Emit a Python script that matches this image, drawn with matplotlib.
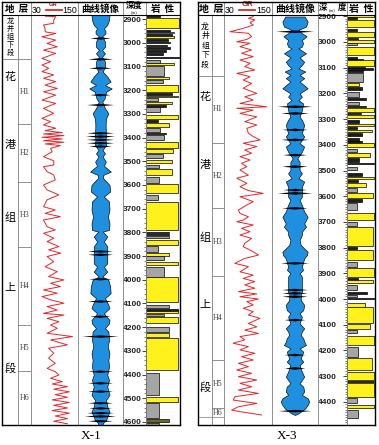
"""Well-log comparison of X-1 and X-3: stratigraphy, GR, mirrored curve, depth, lithology."""

import matplotlib

matplotlib.use("Agg")
import matplotlib.pyplot as plt
from matplotlib.ticker import MultipleLocator
import numpy as np

plt.rcParams["font.family"] = ["Noto Sans CJK SC", "DejaVu Sans"]

# ---------------------------------------------------------------- X-1 data
X1_DEPTH_RANGE = (2883, 4613)
X1_FM_TOP = 3069
X1_FM_CHAR_DEPTH = [3145, 3432, 3740, 4035, 4373]
X1_HZ_TOPS = [3069, 3343, 3588, 3862, 4191, 4385]
X1_HZ_BASE = 4613

X1_GR_DEPTH = [2888, 2890, 2904, 2918, 2925, 2940, 2954, 2961, 2975, 2989, 3003, 3017,
               3031, 3045, 3066, 3080, 3094, 3108, 3122, 3136, 3150, 3164, 3179, 3193,
               3207, 3221, 3242, 3256, 3277, 3298, 3319, 3333, 3347, 3361, 3371, 3379,
               3385, 3392, 3399, 3406, 3413, 3420, 3427, 3434, 3446, 3460, 3481, 3498,
               3516, 3523, 3544, 3558, 3579, 3600, 3621, 3642, 3663, 3692, 3706, 3720,
               3734, 3748, 3776, 3790, 3804, 3825, 3839, 3860, 3874, 3888, 3902, 3924,
               3945, 3966, 3987, 4001, 4015, 4029, 4043, 4057, 4071, 4085, 4099, 4113,
               4128, 4142, 4149, 4163, 4177, 4191, 4205, 4226, 4240, 4254, 4275, 4289,
               4310, 4331, 4353, 4374, 4388, 4402, 4416, 4430, 4440, 4451, 4462, 4473,
               4485, 4496, 4507, 4518, 4530, 4541, 4552, 4563, 4575, 4586, 4597, 4608]
X1_GR_API = [67, 93, 88, 88, 62, 66, 66, 93, 58, 93, 71, 97,
             62, 93, 58, 80, 58, 75, 58, 88, 62, 93, 66, 97,
             62, 93, 58, 93, 62, 88, 58, 80, 62, 93, 66, 110,
             62, 114, 58, 110, 62, 114, 66, 105, 80, 84, 62, 88,
             88, 62, 71, 88, 92, 62, 71, 101, 71, 62, 92, 66,
             105, 62, 71, 92, 62, 88, 71, 101, 75, 106, 71, 88,
             66, 97, 75, 114, 80, 105, 62, 97, 58, 80, 114, 71,
             97, 62, 114, 71, 101, 80, 97, 71, 136, 80, 123, 75,
             88, 75, 92, 71, 92, 101, 80, 110, 84, 123, 88, 128,
             92, 123, 84, 128, 88, 123, 84, 128, 92, 123, 88, 123]

X1_MIR_DEPTH = [2883, 2904, 2925, 2940, 2950, 2961, 2972, 2996, 3017, 3031, 3045, 3059,
                3080, 3101, 3122, 3143, 3164, 3179, 3193, 3207, 3235, 3249, 3277, 3298,
                3319, 3340, 3361, 3389, 3410, 3431, 3453, 3467, 3481, 3502, 3519, 3544,
                3558, 3572, 3600, 3628, 3649, 3670, 3706, 3734, 3762, 3790, 3797, 3818,
                3839, 3860, 3909, 3931, 3945, 3966, 3987, 4001, 4029, 4057, 4078, 4106,
                4120, 4142, 4170, 4184, 4205, 4219, 4254, 4282, 4310, 4338, 4367, 4402,
                4423, 4451, 4486, 4507, 4535, 4556, 4591, 4606, 4613]
X1_MIR_HALF = [0.40, 0.38, 0.30, 0.15, 0.22, 0.22, 0.08, 0.20, 0.20, 0.07, 0.20, 0.07,
               0.20, 0.20, 0.10, 0.30, 0.45, 0.20, 0.50, 0.25, 0.18, 0.08, 0.20, 0.35,
               0.25, 0.23, 0.23, 0.25, 0.22, 0.25, 0.09, 0.20, 0.09, 0.24, 0.15, 0.46,
               0.12, 0.12, 0.40, 0.43, 0.15, 0.38, 0.40, 0.33, 0.40, 0.38, 0.10, 0.30,
               0.15, 0.30, 0.30, 0.30, 0.15, 0.30, 0.08, 0.35, 0.43, 0.45, 0.20, 0.35,
               0.40, 0.15, 0.40, 0.38, 0.20, 0.35, 0.38, 0.32, 0.40, 0.35, 0.38, 0.30,
               0.38, 0.30, 0.40, 0.25, 0.30, 0.40, 0.25, 0.10, 0.10]
X1_SPIKE_DEPTH = [2982, 3070, 3108, 3221, 3263, 3382, 3396, 3410, 3424, 3438, 3881, 3895,
                  3998, 4092, 4156, 4240, 4388, 4437, 4472, 4521, 4543, 4563, 4577, 4597]
X1_SPIKE_HALF = [0.45, 0.55, 0.50, 0.45, 0.60, 0.60, 0.65, 0.60, 0.60, 0.50, 0.55, 0.55,
                 0.50, 0.55, 0.45, 0.80, 0.55, 0.55, 0.55, 0.55, 0.50, 0.60, 0.70, 0.55]

X1_LITH_TOP = [2883, 2897, 2946, 2955, 2963, 2972, 2983, 2996, 3008, 3019, 3031, 3042,
               3059, 3073, 3087, 3098, 3143, 3157, 3179, 3211, 3224, 3235, 3250, 3263,
               3273, 3305, 3326, 3337, 3361, 3379, 3389, 3417, 3450, 3469, 3495, 3516,
               3534, 3568, 3596, 3642, 3670, 3797, 3806, 3815, 3832, 3857, 3888, 3902,
               3924, 3945, 3990, 4106, 4125, 4130, 4144, 4156, 4198, 4223, 4247, 4392,
               4493, 4521, 4589, 4603]
X1_LITH_BASE = [2890, 2939, 2953, 2961, 2970, 2980, 2991, 3003, 3015, 3026, 3039, 3050,
                3064, 3084, 3094, 3141, 3152, 3169, 3207, 3221, 3231, 3246, 3259, 3270,
                3294, 3323, 3333, 3354, 3375, 3385, 3410, 3446, 3467, 3488, 3509, 3530,
                3558, 3590, 3635, 3663, 3790, 3804, 3811, 3825, 3853, 3881, 3900, 3917,
                3938, 3987, 4092, 4120, 4130, 4142, 4151, 4184, 4219, 4240, 4381, 4486,
                4514, 4584, 4599, 4613]
X1_LITH_WIDTH = [0.42, 1.00, 0.74, 0.84, 0.79, 0.84, 0.68, 0.74, 0.63, 0.72, 0.61, 0.53,
                 1.00, 0.42, 0.86, 0.55, 0.70, 0.52, 0.97, 0.80, 0.97, 0.37, 0.80, 0.60,
                 0.42, 0.97, 0.37, 0.70, 0.42, 0.60, 0.56, 0.97, 0.83, 0.52, 0.80, 0.40,
                 0.80, 0.40, 0.97, 0.37, 0.97, 0.70, 0.70, 0.70, 0.97, 0.37, 0.69, 0.55,
                 0.97, 0.55, 0.97, 0.69, 0.97, 0.97, 0.55, 0.97, 0.69, 0.69, 0.97, 0.40,
                 0.97, 0.40, 0.69, 0.40]
# y sandstone, g mudstone, k dark mudstone / coal, w siltstone, o silty sand
X1_LITH_KIND = ["k", "y", "k", "w", "k", "y", "k", "k", "k", "k", "k", "k",
                "k", "g", "y", "g", "y", "g", "y", "k", "y", "g", "y", "k",
                "g", "y", "k", "y", "g", "k", "g", "y", "y", "g", "y", "g",
                "y", "g", "y", "g", "y", "k", "k", "g", "y", "g", "y", "g",
                "y", "g", "y", "g", "k", "y", "g", "y", "g", "y", "y", "g",
                "y", "g", "o", "g"]

# ---------------------------------------------------------------- X-3 data
X3_DEPTH_RANGE = (2895, 4490)
X3_FM_TOP = 3132
X3_FM_CHAR_DEPTH = [3214, 3479, 3763, 4023, 4342]
X3_HZ_TOPS = [3132, 3393, 3646, 3911, 4237, 4424]
X3_HZ_BASE = 4459

X3_GR_DEPTH = [2901, 2908, 2914, 2925, 2934, 2947, 2960, 2966, 2979, 2990, 2999, 3005,
               3018, 3031, 3044, 3057, 3070, 3083, 3096, 3109, 3122, 3135, 3148, 3161,
               3180, 3200, 3213, 3226, 3239, 3252, 3258, 3265, 3278, 3291, 3310, 3323,
               3336, 3355, 3368, 3381, 3394, 3407, 3420, 3433, 3446, 3459, 3472, 3485,
               3498, 3518, 3530, 3550, 3563, 3578, 3589, 3602, 3621, 3634, 3654, 3667,
               3680, 3693, 3699, 3712, 3725, 3738, 3751, 3764, 3783, 3796, 3816, 3829,
               3842, 3861, 3874, 3894, 3907, 3920, 3932, 3945, 3958, 3971, 3980, 3991,
               4000, 4010, 4023, 4036, 4049, 4062, 4075, 4095, 4108, 4121, 4134, 4146,
               4159, 4172, 4185, 4198, 4211, 4224, 4237, 4250, 4263, 4276, 4289, 4302,
               4315, 4328, 4341, 4354, 4367, 4380, 4393, 4406, 4419, 4432, 4438, 4451]
X3_GR_API = [103, 91, 107, 95, 103, 78, 45, 91, 99, 87, 62, 95,
             70, 99, 74, 103, 70, 95, 82, 107, 62, 95, 78, 99,
             78, 112, 82, 103, 70, 137, 62, 103, 70, 112, 82, 112,
             87, 91, 103, 120, 78, 112, 82, 99, 70, 95, 74, 87,
             70, 91, 62, 87, 70, 91, 128, 70, 103, 87, 66, 70,
             91, 78, 62, 103, 74, 95, 70, 99, 82, 78, 103, 116,
             82, 57, 91, 70, 103, 78, 107, 82, 107, 66, 112, 70,
             116, 87, 103, 78, 103, 91, 120, 91, 112, 82, 116, 70,
             82, 53, 91, 70, 107, 74, 103, 66, 91, 62, 99, 66,
             112, 70, 99, 66, 116, 57, 53, 112, 66, 49, 70, 124]

X3_MIR_DEPTH = [2901, 2921, 2940, 2953, 2966, 2977, 2986, 2992, 3005, 3018, 3025, 3044,
                3060, 3077, 3090, 3103, 3115, 3128, 3141, 3154, 3180, 3200, 3213, 3226,
                3239, 3265, 3291, 3303, 3323, 3355, 3368, 3394, 3407, 3427, 3453, 3466,
                3498, 3511, 3530, 3543, 3563, 3602, 3615, 3634, 3660, 3680, 3693, 3706,
                3719, 3738, 3751, 3770, 3790, 3803, 3816, 3829, 3842, 3874, 3887, 3900,
                3913, 3926, 3952, 3971, 3984, 4004, 4023, 4043, 4056, 4069, 4095, 4114,
                4127, 4140, 4153, 4166, 4179, 4192, 4205, 4231, 4244, 4257, 4283, 4302,
                4315, 4328, 4341, 4360, 4373, 4386, 4399, 4412, 4425, 4445, 4451]
X3_MIR_HALF = [0.42, 0.55, 0.48, 0.15, 0.30, 0.50, 0.40, 0.30, 0.35, 0.30, 0.15, 0.48,
               0.20, 0.40, 0.30, 0.15, 0.45, 0.20, 0.40, 0.20, 0.55, 0.20, 0.30, 0.15,
               0.35, 0.30, 0.20, 0.30, 0.40, 0.30, 0.40, 0.20, 0.40, 0.30, 0.10, 0.20,
               0.20, 0.30, 0.15, 0.40, 0.30, 0.30, 0.20, 0.30, 0.40, 0.55, 0.48, 0.40,
               0.48, 0.30, 0.30, 0.20, 0.25, 0.40, 0.55, 0.52, 0.40, 0.30, 0.35, 0.20,
               0.30, 0.30, 0.30, 0.30, 0.25, 0.25, 0.40, 0.36, 0.20, 0.30, 0.20, 0.40,
               0.30, 0.25, 0.36, 0.40, 0.48, 0.20, 0.36, 0.25, 0.36, 0.20, 0.30, 0.40,
               0.30, 0.20, 0.36, 0.40, 0.30, 0.55, 0.62, 0.55, 0.45, 0.15, 0.00]
X3_SPIKE_DEPTH = [2960, 3252, 3278, 3342, 3381, 3440, 3485, 3576, 3589, 3647, 3861, 3965,
                  3978, 3991, 4082, 4218, 4270, 4436]
X3_SPIKE_HALF = [0.82, 0.75, 0.60, 0.55, 0.60, 0.50, 0.55, 0.50, 0.75, 0.55, 0.60, 0.55,
                 0.55, 0.55, 0.45, 0.45, 0.45, 0.70]

X3_LITH_TOP = [2891, 2904, 2914, 2951, 2961, 2984, 2992, 3005, 3018, 3057, 3066, 3070,
               3096, 3103, 3110, 3122, 3161, 3176, 3193, 3219, 3232, 3248, 3258, 3275,
               3284, 3303, 3319, 3332, 3342, 3355, 3375, 3386, 3394, 3418, 3433, 3453,
               3470, 3485, 3511, 3527, 3537, 3547, 3569, 3589, 3612, 3625, 3667, 3699,
               3721, 3796, 3809, 3855, 3881, 3919, 3926, 3945, 3971, 3984, 3997, 4014,
               4032, 4097, 4121, 4144, 4185, 4231, 4283, 4320, 4328, 4386, 4412, 4432]
X3_LITH_BASE = [2901, 2912, 2943, 2958, 2979, 2990, 3003, 3010, 3051, 3065, 3069, 3093,
                3102, 3108, 3115, 3154, 3171, 3187, 3213, 3226, 3245, 3254, 3271, 3280,
                3297, 3316, 3327, 3340, 3350, 3366, 3384, 3392, 3410, 3427, 3446, 3466,
                3474, 3498, 3521, 3534, 3543, 3563, 3582, 3608, 3621, 3654, 3693, 3716,
                3794, 3807, 3848, 3874, 3913, 3926, 3939, 3965, 3980, 3993, 4001, 4030,
                4095, 4118, 4134, 4179, 4224, 4276, 4315, 4324, 4380, 4406, 4425, 4464]
X3_LITH_WIDTH = [1.00, 0.35, 1.00, 0.35, 1.00, 0.40, 1.00, 0.35, 1.00, 0.35, 0.60, 1.00,
                 0.65, 0.97, 0.60, 0.58, 0.45, 0.55, 0.45, 0.70, 0.45, 0.70, 1.00, 0.50,
                 1.00, 0.45, 1.00, 0.35, 0.93, 0.55, 0.45, 0.55, 1.00, 0.35, 0.85, 0.45,
                 1.00, 0.35, 0.55, 1.00, 0.40, 0.70, 0.35, 0.97, 0.55, 0.35, 1.00, 0.35,
                 0.97, 0.35, 0.97, 0.35, 1.00, 0.40, 0.97, 0.35, 0.75, 0.35, 1.00, 0.65,
                 0.97, 0.85, 0.35, 1.00, 0.40, 0.93, 1.00, 1.00, 1.00, 0.35, 1.00, 0.40]
X3_LITH_KIND = ["y", "k", "y", "k", "y", "k", "y", "g", "y", "k", "k", "y",
                "k", "k", "k", "g", "y", "k", "g", "k", "g", "k", "y", "k",
                "y", "k", "y", "k", "y", "k", "k", "k", "y", "g", "y", "k",
                "k", "g", "k", "y", "k", "y", "g", "y", "k", "g", "y", "g",
                "y", "k", "y", "g", "y", "k", "y", "g", "k", "g", "k", "y",
                "y", "y", "g", "y", "g", "y", "y", "k", "y", "g", "y", "g"]

HZ_NAMES = ["H1", "H2", "H3", "H4", "H5", "H6"]
FM_CHARS = ["花", "港", "组", "上", "段"]
UPPER_FM = "龙\n井\n组\n下\n段"

# ---------------------------------------------------------------- layout (pixels)
W, H = 379, 445
HEAD_TOP, HEAD_BOT, PLOT_BOT = 2, 15, 425
X1_COLS = [2, 18, 31, 78, 123, 146, 180]
X3_COLS = [198, 212, 224, 272, 318, 347, 375]

LITH_COLORS = {"y": "#fff21c", "g": "#a5a5a5", "k": "#1e1e1e",
               "w": "white", "o": "#6b6a1f"}
SEP = "0.5"
GR_RED = "#e3262a"
MIRROR_BLUE = "#1f8fdf"

fig = plt.figure(figsize=(W / 100, H / 100), dpi=100)


def rect(x0, x1, y0, y1):
  return [x0 / W, 1 - y1 / H, (x1 - x0) / W, (y1 - y0) / H]


def column(x0, x1, drange):
  ax = fig.add_axes(rect(x0, x1, HEAD_BOT, PLOT_BOT))
  ax.set_ylim(drange[1], drange[0])
  ax.set_xticks([])
  ax.set_yticks([])
  for s in ax.spines.values():
    s.set_color(SEP)
    s.set_linewidth(0.6)
  return ax


def draw_well(cols, drange, fm_top, fm_chars_d, hz_tops, hz_base,
              gr_d, gr_v, mir_d, mir_h, spk_d, spk_h,
              l_top, l_base, l_w, l_kind, title, minor, big_head):
  c0, c1, c2, c3, c4, c5, c6 = cols

  # header row
  hdr = fig.add_axes(rect(c0, c6, HEAD_TOP, HEAD_BOT))
  hdr.set_xlim(c0, c6)
  hdr.set_ylim(0, 1)
  hdr.set_xticks([])
  hdr.set_yticks([])
  for s in hdr.spines.values():
    s.set_visible(False)
  for xv in (c2, c3, c4, c5):
    hdr.axvline(xv, color=SEP, lw=0.6)
  hs = 7.2 if big_head else 6.8
  hdr.text((c0 + c2) / 2, 0.45, "地  层", ha="center", va="center",
           fontsize=hs, fontweight="bold")
  hdr.text(c2 + 0.8, 0.35, "30", ha="left", va="center", fontsize=6.3,
           family="Liberation Sans")
  hdr.text(c3 - 0.6, 0.35, "150", ha="right", va="center", fontsize=6.3,
           family="Liberation Sans")
  gmid = (c2 + c3) / 2 - 1
  hdr.plot([gmid - 8, gmid + 8], [0.38, 0.38], color=GR_RED, lw=1.3)
  hdr.text(gmid, 0.8, "GR", ha="center", va="center", color="#b01818",
           fontsize=5.6 if big_head else 4.2, fontweight="bold",
           family="Liberation Sans")
  hdr.text((c3 + c4) / 2, 0.45, "曲线镜像", ha="center", va="center",
           fontsize=hs, fontweight="bold")
  if big_head:
    hdr.text(c4 + 1, 0.6, "深", ha="left", va="center", fontsize=6.0,
             fontweight="bold")
    hdr.text(c5 - 1, 0.6, "度", ha="right", va="center", fontsize=6.0,
             fontweight="bold")
    hdr.text((c4 + c5) / 2, 0.3, "(m)", ha="center", va="center", fontsize=3.0)
  else:
    hdr.text((c4 + c5) / 2, 0.7, "深度", ha="center", va="center", fontsize=6.0,
             fontweight="bold")
    hdr.text((c4 + c5) / 2, 0.12, "(m)", ha="center", va="center", fontsize=3.0)
  hdr.text((c5 + c6) / 2, 0.45, "岩  性", ha="center", va="center",
           fontsize=hs, fontweight="bold")

  # stratigraphy: formation column and member column
  fm = column(c0, c1, drange)
  fm.axhline(fm_top, color=SEP, lw=0.6)
  fm.text(0.5, (drange[0] + fm_top) / 2, UPPER_FM, ha="center", va="center",
          fontsize=5.6 if big_head else 5.2, linespacing=1.25 if big_head else 1.0,
          transform=fm.get_yaxis_transform())
  for ch, d in zip(FM_CHARS, fm_chars_d):
    fm.text(0.5, d, ch, ha="center", va="center", fontsize=8,
            transform=fm.get_yaxis_transform())

  mem = column(c1, c2, drange)
  bounds = list(hz_tops) + [hz_base]
  for d in hz_tops:
    mem.axhline(d, color=SEP, lw=0.6)
  if hz_base < drange[1]:
    mem.axhline(hz_base, color="0.65", lw=0.8)
    fm.axhline(hz_base, color="0.65", lw=0.8)
  for name, top, base in zip(HZ_NAMES, bounds[:-1], bounds[1:]):
    mem.text(0.5, (top + base) / 2, name, ha="center", va="center",
             fontsize=5.8, family="Liberation Serif", color="0.25",
             transform=mem.get_yaxis_transform())

  # GR curve
  gr = column(c2, c3, drange)
  gr.set_xlim(30, 150)
  gr.plot(gr_v, gr_d, color=GR_RED, lw=0.7)

  # mirrored curve
  mir = column(c3, c4, drange)
  mir.set_xlim(-1, 1)
  d = np.asarray(mir_d, float)
  hw = np.asarray(mir_h, float)
  mir.fill_betweenx(d, -hw, hw, facecolor=MIRROR_BLUE, edgecolor="black", lw=0.45)
  for sd, sw in zip(spk_d, spk_h):
    mir.fill([-sw, 0, sw, 0], [sd, sd - 5, sd, sd + 5], color="black", lw=0)

  # depth track
  dep = column(c4, c5, drange)
  dep.yaxis.set_major_locator(MultipleLocator(100))
  dep.yaxis.set_minor_locator(MultipleLocator(minor))
  dep.tick_params(axis="y", which="both", direction="in", left=False, right=True,
                  labelleft=True, labelright=False, pad=-13.6, colors="#222222")
  dep.tick_params(axis="y", which="major", length=2.6, width=0.6, labelsize=6)
  dep.tick_params(axis="y", which="minor", length=1.3, width=0.4)
  for lab in dep.get_yticklabels():
    lab.set_family("Liberation Sans")
    lab.set_fontweight("bold")
  dep.spines["right"].set_color("0.25")

  # lithology
  lit = column(c5, c6, drange)
  lit.set_xlim(0, 1.03)
  top = np.asarray(l_top, float)
  base = np.asarray(l_base, float)
  lit.barh((top + base) / 2, l_w, height=base - top, left=0,
           color=[LITH_COLORS[k] for k in l_kind], edgecolor="black", lw=0.5)

  # outer frame
  box = fig.add_axes(rect(c0, c6, HEAD_TOP, PLOT_BOT))
  box.patch.set_alpha(0)
  box.set_xticks([])
  box.set_yticks([])
  for s in box.spines.values():
    s.set_color("black")
    s.set_linewidth(1.0)
  fig.text((c0 + c6) / 2 / W, 1 - 436 / H, title, ha="center", va="center",
           fontsize=9.5, family="Liberation Serif")
  fig.add_artist(plt.Line2D([c0 / W, c6 / W], [1 - HEAD_BOT / H] * 2,
                            color="black", lw=0.8))


draw_well(X1_COLS, X1_DEPTH_RANGE, X1_FM_TOP, X1_FM_CHAR_DEPTH, X1_HZ_TOPS, X1_HZ_BASE,
          X1_GR_DEPTH, X1_GR_API, X1_MIR_DEPTH, X1_MIR_HALF, X1_SPIKE_DEPTH, X1_SPIKE_HALF,
          X1_LITH_TOP, X1_LITH_BASE, X1_LITH_WIDTH, X1_LITH_KIND, "X-1", 20, False)
draw_well(X3_COLS, X3_DEPTH_RANGE, X3_FM_TOP, X3_FM_CHAR_DEPTH, X3_HZ_TOPS, X3_HZ_BASE,
          X3_GR_DEPTH, X3_GR_API, X3_MIR_DEPTH, X3_MIR_HALF, X3_SPIKE_DEPTH, X3_SPIKE_HALF,
          X3_LITH_TOP, X3_LITH_BASE, X3_LITH_WIDTH, X3_LITH_KIND, "X-3", 10, True)

fig.savefig("out.png", dpi=100)
